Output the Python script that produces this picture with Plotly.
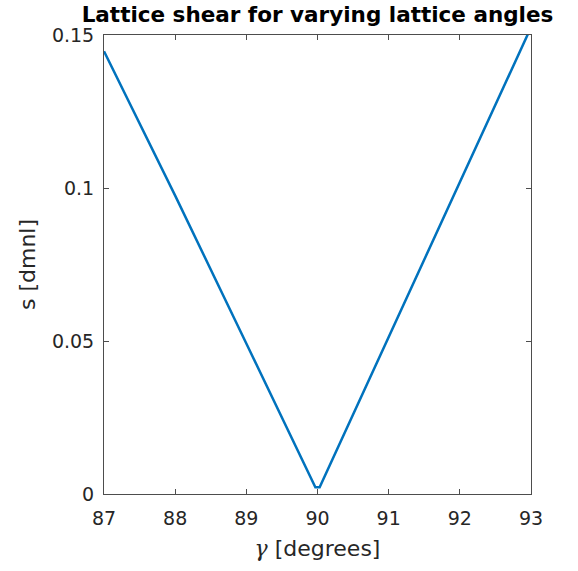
import plotly.graph_objects as go

gamma_deg = [87.0, 88.0, 89.0, 89.97, 90.03, 91.0, 92.0, 93.0]
shear = [0.1447, 0.0975, 0.0492, 0.0022, 0.0022, 0.0514, 0.1020, 0.1525]

x_ticks = [87, 88, 89, 90, 91, 92, 93]
y_ticks = [0, 0.05, 0.1, 0.15]
y_tick_text = ["0", "0.05", "0.1", "0.15"]

axis_col = "#4d4d4d"
text_col = "#262626"
font_fam = "DejaVu Sans, sans-serif"

fig = go.Figure()
fig.add_trace(go.Scatter(x=gamma_deg, y=shear, mode="lines",
                         line=dict(color="#0072BD", width=2.5),
                         showlegend=False, cliponaxis=True))

fig.update_layout(
    width=578, height=571,
    margin=dict(l=104, r=47, t=35, b=77),
    paper_bgcolor="white", plot_bgcolor="white",
    font=dict(family=font_fam, size=19, color=text_col),
    title=dict(text="<b>Lattice shear for varying lattice angles</b>",
               x=0.5, xref="paper", xanchor="center",
               y=0.988, yref="container", yanchor="top",
               font=dict(family=font_fam, size=21.5, color="black")),
)
fig.update_xaxes(range=[87, 93], tickvals=x_ticks, ticks="inside", ticklen=5,
                 tickcolor=axis_col, showline=True, linecolor=axis_col, linewidth=1,
                 mirror="ticks", showgrid=False, zeroline=False,
                 ticklabelstandoff=7,
                 tickfont=dict(size=19, color=text_col),
                 title=dict(text='<span style="font-family:DejaVu Serif, serif"><i>γ</i></span> [degrees]',
                            font=dict(size=22, color=text_col), standoff=12))
fig.update_yaxes(range=[0, 0.15], tickvals=y_ticks, ticktext=y_tick_text,
                 ticks="inside", ticklen=5, tickcolor=axis_col, showline=True,
                 linecolor=axis_col, linewidth=1, mirror="ticks", showgrid=False,
                 zeroline=False, ticklabelstandoff=5,
                 tickfont=dict(size=19, color=text_col),
                 title=dict(text="s [dmnl]", font=dict(size=22, color=text_col), standoff=10))

fig.write_html("out.html")
